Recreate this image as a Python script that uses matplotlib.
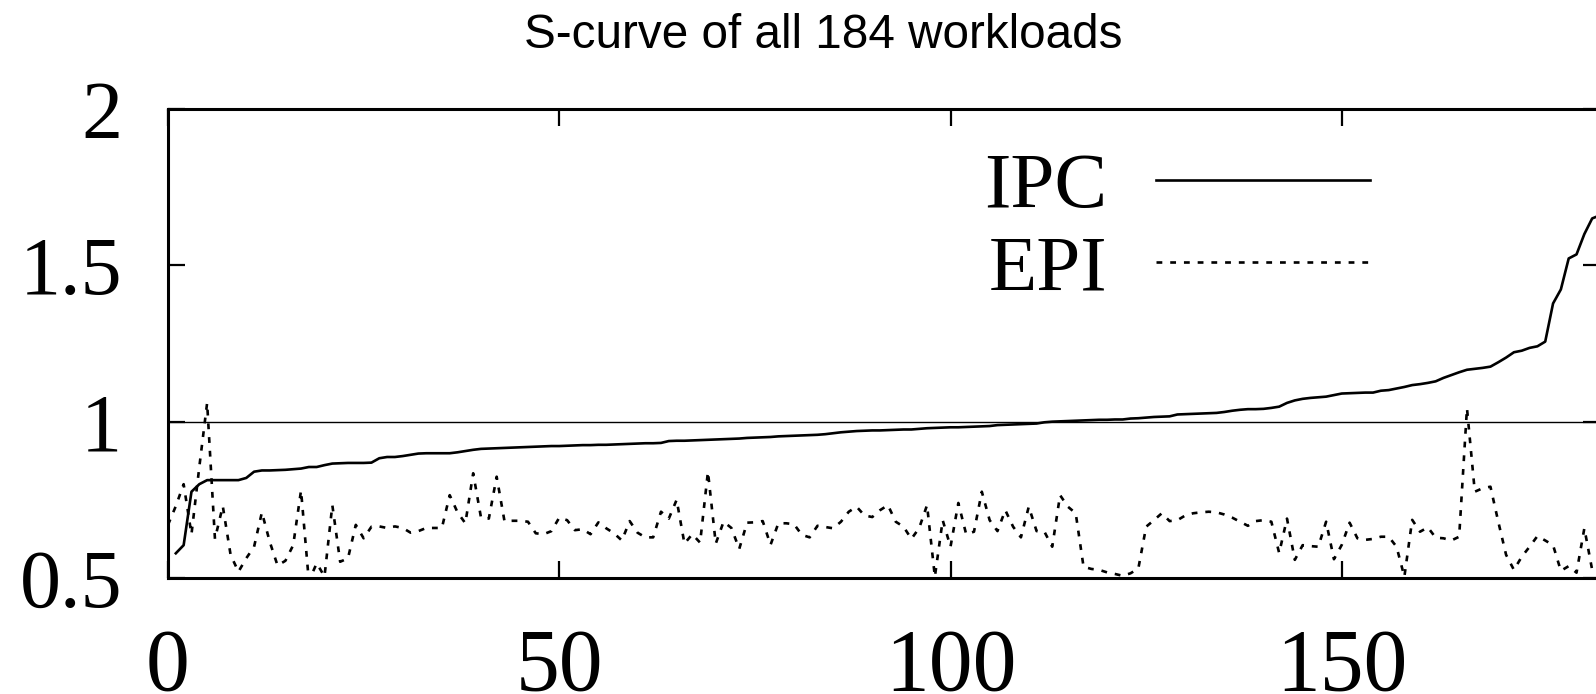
import numpy as np
import matplotlib
matplotlib.use("Agg")
import matplotlib.pyplot as plt

# IPC (sorted, x = 1..183) and EPI (x = 0..182), normalised values
ipc = [0.579, 0.605, 0.776, 0.80, 0.813, 0.813, 0.813, 0.813, 0.813, 0.82,
       0.84, 0.844, 0.844, 0.845, 0.846, 0.848, 0.85, 0.855, 0.855, 0.861,
       0.866, 0.867, 0.868, 0.868, 0.868, 0.869, 0.883, 0.887, 0.887, 0.89,
       0.894, 0.898, 0.899, 0.899, 0.899, 0.899, 0.902, 0.906, 0.91, 0.913,
       0.914, 0.915, 0.916, 0.917, 0.918, 0.919, 0.92, 0.921, 0.922, 0.922,
       0.923, 0.924, 0.925, 0.925, 0.926, 0.926, 0.927, 0.928, 0.929, 0.93,
       0.931, 0.931, 0.932, 0.938, 0.939, 0.939, 0.94, 0.941, 0.942, 0.943,
       0.944, 0.945, 0.946, 0.948, 0.949, 0.95, 0.951, 0.953, 0.954, 0.955,
       0.956, 0.957, 0.958, 0.96, 0.963, 0.966, 0.968, 0.97, 0.971, 0.972,
       0.972, 0.973, 0.974, 0.975, 0.975, 0.977, 0.979, 0.98, 0.981, 0.982,
       0.982, 0.983, 0.984, 0.985, 0.986, 0.989, 0.99, 0.991, 0.992, 0.993,
       0.994, 0.998, 1.0, 1.001, 1.002, 1.003, 1.004, 1.005, 1.006, 1.006,
       1.007, 1.007, 1.01, 1.011, 1.013, 1.015, 1.016, 1.017, 1.023, 1.024,
       1.025, 1.026, 1.027, 1.028, 1.031, 1.035, 1.038, 1.04, 1.04, 1.041,
       1.044, 1.048, 1.06, 1.068, 1.073, 1.076, 1.078, 1.08, 1.085, 1.09,
       1.091, 1.092, 1.093, 1.093, 1.099, 1.101, 1.106, 1.111, 1.117, 1.12,
       1.124, 1.129, 1.14, 1.149, 1.158, 1.166, 1.169, 1.172, 1.176, 1.19,
       1.205, 1.222, 1.227, 1.236, 1.241, 1.256, 1.378, 1.423, 1.522, 1.535,
       1.60, 1.65, 1.66]

epi = [0.67, 0.73, 0.80, 0.64, 0.855, 1.06, 0.625, 0.73, 0.574, 0.52,
       0.563, 0.60, 0.71, 0.616, 0.54, 0.555, 0.605, 0.78, 0.49, 0.547,
       0.505, 0.733, 0.552, 0.563, 0.67, 0.627, 0.664, 0.665, 0.66, 0.665,
       0.66, 0.645, 0.65, 0.66, 0.66, 0.66, 0.765, 0.71, 0.675, 0.835,
       0.693, 0.69, 0.824, 0.682, 0.683, 0.683, 0.68, 0.643, 0.64, 0.65,
       0.693, 0.685, 0.653, 0.656, 0.64, 0.678, 0.659, 0.643, 0.62, 0.682,
       0.645, 0.63, 0.63, 0.712, 0.69, 0.75, 0.61, 0.64, 0.613, 0.84,
       0.61, 0.68, 0.66, 0.593, 0.677, 0.678, 0.682, 0.606, 0.675, 0.675,
       0.672, 0.638, 0.63, 0.667, 0.663, 0.659, 0.68, 0.712, 0.728, 0.70,
       0.695, 0.717, 0.733, 0.68, 0.664, 0.625, 0.66, 0.733, 0.504, 0.685,
       0.60, 0.74, 0.64, 0.648, 0.776, 0.685, 0.65, 0.717, 0.664, 0.63,
       0.728, 0.65, 0.648, 0.60, 0.765, 0.728, 0.707, 0.536, 0.529, 0.526,
       0.518, 0.513, 0.507, 0.515, 0.53, 0.664, 0.685, 0.707, 0.682, 0.685,
       0.70, 0.707, 0.71, 0.712, 0.71, 0.703, 0.693, 0.68, 0.667, 0.682,
       0.685, 0.68, 0.58, 0.69, 0.558, 0.605, 0.602, 0.60, 0.68, 0.56,
       0.606, 0.677, 0.627, 0.622, 0.625, 0.632, 0.632, 0.60, 0.504, 0.686,
       0.648, 0.662, 0.629, 0.627, 0.62, 0.632, 1.043, 0.776, 0.787, 0.792,
       0.68, 0.574, 0.526, 0.568, 0.60, 0.634, 0.62, 0.605, 0.523, 0.538,
       0.517, 0.659, 0.526]

ipc_x = np.arange(1, len(ipc) + 1)
epi_x = np.arange(0, len(epi))

xticks = [0, 50, 100, 150]
yticks = [0.5, 1, 1.5, 2]
yticklabels = ['0.5', '1', '1.5', '2']

W, H = 1596, 694
fig = plt.figure(figsize=(W / 100, H / 100), dpi=100)
ax = fig.add_axes([168 / W, 1 - 578 / H, 1432 / W, 469 / H])

serif = ['Liberation Serif', 'DejaVu Serif']

ax.axhline(1.0, color='black', linewidth=1.0, zorder=1)
ax.plot(ipc_x, ipc, color='black', linewidth=1.9, label='IPC', zorder=3)
ax.plot(epi_x, epi, color='black', linewidth=1.9, linestyle=(0, (2.2, 3.0)),
        label='EPI', zorder=2)

ax.set_xlim(0, 183)
ax.set_ylim(0.5, 2)
ax.set_xticks(xticks)
ax.set_yticks(yticks)
ax.set_yticklabels(yticklabels)

for s in ax.spines.values():
    s.set_linewidth(2.2)

ax.tick_params(direction='in', length=12, width=1.6, top=True, right=True)
ax.tick_params(axis='y', pad=33, labelsize=59)
ax.tick_params(axis='x', pad=36, labelsize=63)
for lab in ax.get_xticklabels() + ax.get_yticklabels():
    lab.set_family(serif)

leg = ax.legend(loc='upper right', bbox_to_anchor=(1370 / W, 1 - 152 / H),
                bbox_transform=fig.transFigure, frameon=False,
                markerfirst=False, prop={'family': serif, 'size': 57},
                handlelength=2.7, handletextpad=0.62, labelspacing=0.12,
                borderpad=0, borderaxespad=0)

fig.text(823 / W, 1 - 48 / H, 'S-curve of all 184 workloads', ha='center',
         va='baseline', fontsize=34.3, family=['Liberation Sans', 'DejaVu Sans'])

fig.savefig('out.png', dpi=100)
